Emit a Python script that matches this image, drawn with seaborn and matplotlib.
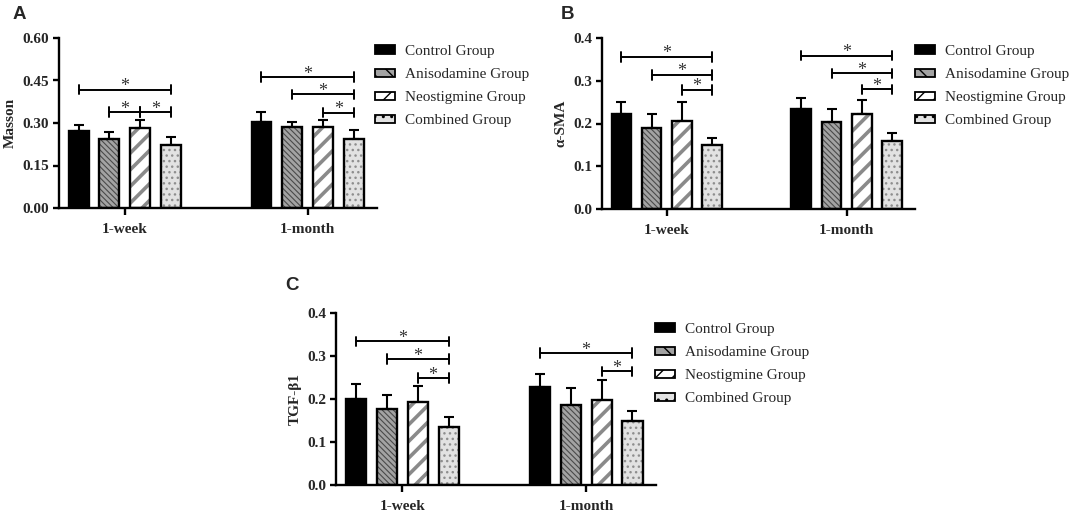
import matplotlib
matplotlib.use("Agg")
import matplotlib.pyplot as plt
import seaborn as sns
import pandas as pd
from matplotlib.patches import Patch, Rectangle

# ---- data ----
groups = ["Control Group", "Anisodamine Group", "Neostigmine Group", "Combined Group"]
times = ["1-week", "1-month"]

masson_week = [0.272, 0.243, 0.284, 0.221]
masson_month = [0.302, 0.287, 0.287, 0.243]
masson_week_sd = [0.022, 0.024, 0.027, 0.028]
masson_month_sd = [0.036, 0.016, 0.022, 0.034]

sma_week = [0.223, 0.189, 0.205, 0.149]
sma_month = [0.233, 0.204, 0.222, 0.160]
sma_week_sd = [0.028, 0.034, 0.046, 0.016]
sma_month_sd = [0.026, 0.030, 0.033, 0.018]

tgf_week = [0.201, 0.176, 0.193, 0.135]
tgf_month = [0.229, 0.187, 0.197, 0.150]
tgf_week_sd = [0.034, 0.034, 0.038, 0.022]
tgf_month_sd = [0.029, 0.039, 0.048, 0.021]

# significance brackets: (time index, group a, group b, height)
masson_sig = [(0, 0, 3, 0.418), (0, 1, 2, 0.338), (0, 2, 3, 0.338),
              (1, 0, 3, 0.462), (1, 1, 3, 0.401), (1, 2, 3, 0.337)]
sma_sig = [(0, 0, 3, 0.356), (0, 1, 3, 0.314), (0, 2, 3, 0.279),
           (1, 0, 3, 0.359), (1, 1, 3, 0.317), (1, 2, 3, 0.280)]
tgf_sig = [(0, 0, 3, 0.334), (0, 1, 3, 0.293), (0, 2, 3, 0.249),
           (1, 0, 3, 0.307), (1, 2, 3, 0.264)]

# bar styles: face, hatch, hatch colour
styles = [("black", "", "black"),
          ("#a3a3a3", "\\\\\\\\\\\\", "#4a4a4a"),
          ("white", "//", "#8a8a8a"),
          ("#e2e2e2", "...", "#8e8e8e")]
hatch_lw = [1.0, 0.8, 2.6, 1.0]

sns.set_style("ticks")
plt.rcParams["font.family"] = ["Liberation Serif", "DejaVu Serif"]
plt.rcParams["hatch.linewidth"] = 1.0

W, H = 1072, 512
fig = plt.figure(figsize=(W / 100, H / 100), dpi=100)


def panel(rect, week, month, week_sd, month_sd, sig, ylabel, ymax, yticks, ticklabels):
    ax = fig.add_axes(rect)
    df = pd.DataFrame({
        "time": [times[0]] * 4 + [times[1]] * 4,
        "group": groups * 2,
        "value": week + month,
    })
    sns.barplot(data=df, x="time", y="value", hue="group", order=times,
                hue_order=groups, errorbar=None, width=0.672, gap=0.35,
                legend=False, ax=ax)
    bars = sorted(ax.patches, key=lambda p: p.get_x())
    sds = week_sd + month_sd
    centers = {}
    for n, p in enumerate(bars):
        t, g = divmod(n, 4)
        face, hatch, hcol = styles[g]
        p.set_facecolor(face)
        p.set_edgecolor(hcol)
        p.set_hatch(hatch)
        p.set_linewidth(0)
        if hasattr(p, "set_hatch_linewidth"):
            p.set_hatch_linewidth(hatch_lw[g])
        p.set_zorder(2)
        ax.add_patch(Rectangle((p.get_x(), p.get_y()), p.get_width(), p.get_height(),
                               fill=False, ec="black", lw=1.7, zorder=3))
        cx = p.get_x() + p.get_width() / 2
        centers[(t, g)] = cx
        ax.errorbar([cx], [p.get_height()], yerr=[[0], [sds[n]]], fmt="none",
                    ecolor="black", elinewidth=1.5, capsize=3.5, capthick=1.5, zorder=1)

    for t, a, b, y in sig:
        x0, x1 = centers[(t, a)], centers[(t, b)]
        ax.plot([x0, x1], [y, y], color="black", lw=1.4, zorder=4)
        tick = ymax * 0.028
        for xx in (x0, x1):
            ax.plot([xx, xx], [y - tick, y + tick], color="black", lw=1.4, zorder=4)
        ax.annotate("*", ((x0 + x1) / 2, y), xytext=(0, -1.2), textcoords="offset points",
                    ha="center", va="baseline", fontsize=13, color="#333333")

    ax.set_xlim(-0.36, 1.38)
    ax.set_ylim(0, ymax)
    ax.set_yticks(yticks)
    ax.set_yticklabels(ticklabels, fontweight="bold", fontsize=11)
    ax.set_xticks([0, 1])
    ax.set_xticklabels(times, fontweight="bold", fontsize=11)
    ax.set_xlabel("")
    ax.set_ylabel(ylabel, fontweight="bold", fontsize=11, labelpad=4)
    sns.despine(ax=ax)
    for s in ("left", "bottom"):
        ax.spines[s].set_linewidth(1.7)
        ax.spines[s].set_color("black")
    ax.tick_params(axis="y", width=1.7, length=4, color="black", pad=3)
    ax.tick_params(axis="x", width=1.7, length=5, color="black", pad=6)
    return ax


def legend(x, y):
    handles = []
    for (face, hatch, hcol), name in zip(styles, groups):
        handles.append(Patch(facecolor=face, edgecolor="black", hatch=hatch[:2], lw=1.3, label=name))
    fig.legend(handles=handles, loc="upper left", bbox_to_anchor=(x / W, 1 - y / H),
               bbox_transform=fig.transFigure, frameon=False, fontsize=11,
               handlelength=1.3, handleheight=0.45, handletextpad=0.65,
               labelspacing=0.66, borderpad=0, borderaxespad=0)


panel([59 / W, 1 - 208 / H, 318 / W, 170 / H], masson_week, masson_month,
      masson_week_sd, masson_month_sd, masson_sig, "Masson", 0.60,
      [0, 0.15, 0.30, 0.45, 0.60], ["0.00", "0.15", "0.30", "0.45", "0.60"])
panel([602 / W, 1 - 209 / H, 313 / W, 171 / H], sma_week, sma_month,
      sma_week_sd, sma_month_sd, sma_sig, "α-SMA", 0.4,
      [0, 0.1, 0.2, 0.3, 0.4], ["0.0", "0.1", "0.2", "0.3", "0.4"])
panel([336 / W, 1 - 485 / H, 320 / W, 172 / H], tgf_week, tgf_month,
      tgf_week_sd, tgf_month_sd, tgf_sig, "TGF-β1", 0.4,
      [0, 0.1, 0.2, 0.3, 0.4], ["0.0", "0.1", "0.2", "0.3", "0.4"])

legend(375, 45)
legend(915, 45)
legend(655, 323)

for letter, lx, ly in (("A", 13, 19), ("B", 561, 19), ("C", 285, 290)):
    fig.text(lx / W, 1 - ly / H, letter, fontsize=13.5, fontweight="bold",
             family=["Liberation Sans", "DejaVu Sans"], va="baseline", ha="left")

fig.savefig("out.png", dpi=100)
